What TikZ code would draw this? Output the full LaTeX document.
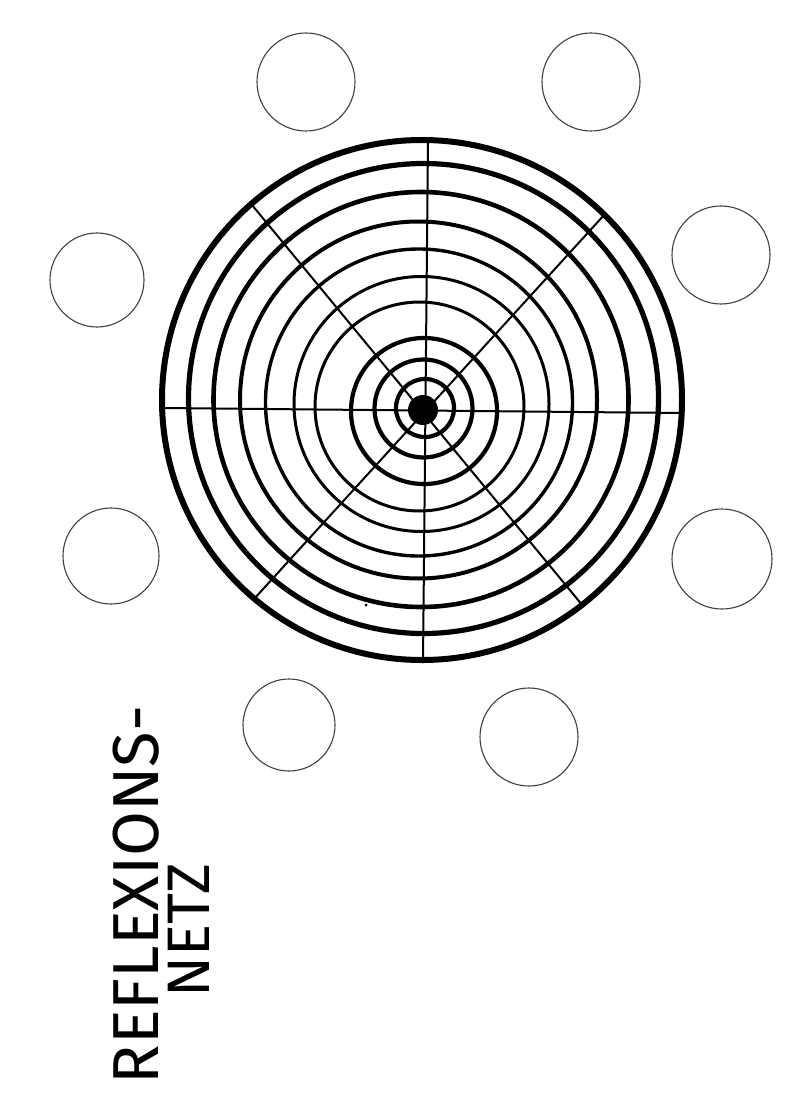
\documentclass[tikz,border=0pt]{standalone}
\usepackage{fontspec}
\newfontfamily\handfont{Fira Sans}
\tikzset{
  ring/.style={draw=black, circle, inner sep=0pt, outer sep=0pt},
  spoke/.style={draw=black, line width=2pt},
  bubble/.style={draw=black!75, circle, line width=1.1pt, inner sep=0pt, outer sep=0pt},
  title/.style={rotate=90, inner sep=0pt, text=black},
}
\begin{document}
\begin{tikzpicture}[x=1pt,y=-1pt]
\fill[white] (0,0) rectangle (790,1115);
\useasboundingbox (0,0) rectangle (790,1115);

% small empty circles
\node[bubble, minimum size=98pt] (b1) at (306,82) {};
\node[bubble, minimum size=98pt] (b2) at (591,82) {};
\node[bubble, minimum size=94pt] (b3) at (97,280) {};
\node[bubble, minimum size=98pt] (b4) at (721,255) {};
\node[bubble, minimum size=96pt] (b5) at (111,556) {};
\node[bubble, minimum size=100pt] (b6) at (722,559) {};
\node[bubble, minimum size=92pt] (b7) at (289,725) {};
\node[bubble, minimum size=98pt] (b8) at (529,737) {};

% concentric rings
\node[ring, line width=4.2pt, minimum size=58pt]  (r1)  at (425,408)   {};
\node[ring, line width=4.2pt, minimum size=98pt]  (r2)  at (423.5,408.5) {};
\node[ring, line width=4.2pt, minimum size=146pt] (r3)  at (424,411)   {};
\node[ring, line width=3.0pt, minimum size=209pt] (r4)  at (419.5,406.5) {};
\node[ring, line width=3.0pt, minimum size=255pt] (r5)  at (421.5,404) {};
\node[ring, line width=3.4pt, minimum size=307pt] (r6)  at (419,402.5) {};
\node[ring, line width=4.0pt, minimum size=357pt] (r7)  at (418.5,400) {};
\node[ring, line width=4.6pt, minimum size=415pt] (r8)  at (421,399.5) {};
\node[ring, line width=5.2pt, minimum size=470pt] (r9)  at (423.5,398.5) {};
\node[ring, line width=6.0pt, minimum size=520pt] (r10) at (422,400)   {};

% spoke ends
\coordinate (nT) at (428,140);
\coordinate (nB) at (423,663);
\coordinate (wL) at (160,408);
\coordinate (eR) at (683,413);
\coordinate (nw) at (252,205);
\coordinate (se) at (583,606);
\coordinate (ne) at (605,214);
\coordinate (sw) at (254,599);

\draw[spoke] (nT) -- (nB);
\draw[spoke] (wL) -- (eR);
\draw[spoke] (nw) -- (se);
\draw[spoke] (ne) -- (sw);

% hub
\node[fill=black, circle, inner sep=0pt, minimum size=30pt] (hub) at (423,410) {};
% stray dot
\node[fill=black, circle, inner sep=0pt, minimum size=3pt] (speck) at (366,605) {};

% title
\node[title, font=\handfont\fontsize{65}{65}\selectfont] (t1) at (136,895) {REFLEXIONS-};
\node[title, font=\handfont\fontsize{60}{60}\selectfont] (t2) at (189,930) {NETZ};
\end{tikzpicture}
\end{document}
